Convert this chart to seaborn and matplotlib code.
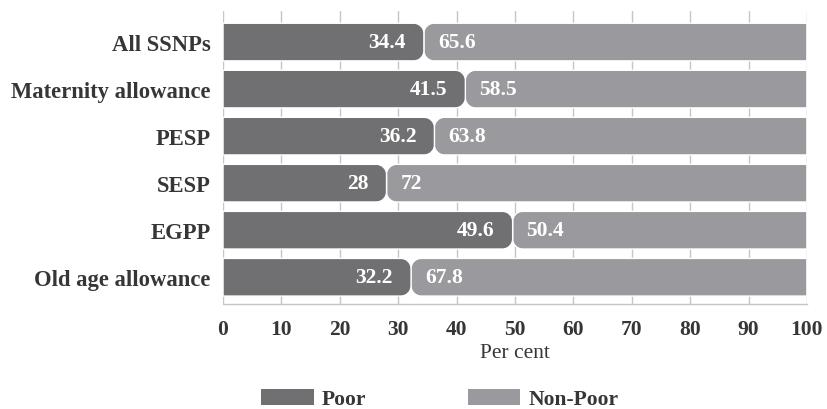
import matplotlib
matplotlib.use("Agg")
import matplotlib.pyplot as plt
import numpy as np
import pandas as pd
import seaborn as sns
from matplotlib.path import Path
from matplotlib.patches import PathPatch, Patch

# Share of beneficiaries by poverty status, per programme
programs = ["All SSNPs", "Maternity allowance", "PESP", "SESP", "EGPP",
            "Old age allowance"]
poor = [34.4, 41.5, 36.2, 28, 49.6, 32.2]
non_poor = [65.6, 58.5, 63.8, 72, 50.4, 67.8]
x_ticks = [0, 10, 20, 30, 40, 50, 60, 70, 80, 90, 100]
series_names = ["Poor", "Non-Poor"]

POOR_COLOR = "#707073"
NONPOOR_COLOR = "#9a9a9e"
TEXT_COLOR = "#363636"
GRID_COLOR = "#c6c6c6"

df = pd.DataFrame({"program": programs, "poor": poor, "non_poor": non_poor})
df["total"] = df["poor"] + df["non_poor"]

sns.set_style("white")
plt.rcParams["font.family"] = ["Liberation Serif", "DejaVu Serif"]
plt.rcParams["text.color"] = TEXT_COLOR

fig = plt.figure(figsize=(8.27, 4.10), dpi=100)
ax = fig.add_axes([0.2697, 0.256, 0.706, 0.7147])

# Non-poor bars are stacked after the poor share; draw totals first
sns.barplot(data=df, x="total", y="program", orient="h", color=NONPOOR_COLOR,
            saturation=1, width=0.8, ax=ax)
n = len(programs)
nonpoor_rects = list(ax.patches[:n])
sns.barplot(data=df, x="poor", y="program", orient="h", color=POOR_COLOR,
            saturation=1, width=0.8, ax=ax)
poor_rects = list(ax.patches[n:2 * n])

ax.set_xlim(0, 100)
ax.set_ylim(5.57, -0.66)

# corner radius in pixels, converted to data units along each axis
radius_px = 10
p0 = ax.transData.transform((0, 0))
p1 = ax.transData.transform((1, 1))
rx = radius_px / abs(p1[0] - p0[0])
ry = radius_px / abs(p1[1] - p0[1])

M, L, C, Z = Path.MOVETO, Path.LINETO, Path.CURVE4, Path.CLOSEPOLY
K = 0.5523  # cubic approximation of a quarter circle


def rounded_bar(x0, x1, y0, y1, side):
    if side == "right":
        verts = [(x0, y0), (x1 - rx, y0),
                 (x1 - rx + K * rx, y0), (x1, y0 + ry - K * ry), (x1, y0 + ry),
                 (x1, y1 - ry),
                 (x1, y1 - ry + K * ry), (x1 - rx + K * rx, y1), (x1 - rx, y1),
                 (x0, y1), (x0, y0)]
    else:
        verts = [(x1, y0), (x0 + rx, y0),
                 (x0 + rx - K * rx, y0), (x0, y0 + ry - K * ry), (x0, y0 + ry),
                 (x0, y1 - ry),
                 (x0, y1 - ry + K * ry), (x0 + rx - K * rx, y1), (x0 + rx, y1),
                 (x1, y1), (x1, y0)]
    codes = [M, L, C, C, C, L, C, C, C, L, Z]
    return Path(verts, codes)


for rect, p, q in zip(nonpoor_rects, poor, non_poor):
    y0, h = rect.get_y(), rect.get_height()
    rect.remove()
    ax.add_patch(PathPatch(rounded_bar(p, p + q, y0, y0 + h, "left"),
                           facecolor=NONPOOR_COLOR, edgecolor="white",
                           linewidth=1.0, zorder=2))
for rect, p in zip(poor_rects, poor):
    y0, h = rect.get_y(), rect.get_height()
    rect.remove()
    ax.add_patch(PathPatch(rounded_bar(0, p, y0, y0 + h, "right"),
                           facecolor=POOR_COLOR, edgecolor="white",
                           linewidth=1.0, zorder=2))

# value labels inside each segment
for i, (p, q) in enumerate(zip(poor, non_poor)):
    ax.annotate(f"{p:g}", xy=(p, i), xytext=(-13, 0), textcoords="offset points",
                ha="right", va="center", color="white", fontsize=15.5,
                fontweight="bold", zorder=3)
    ax.annotate(f"{q:g}", xy=(p, i), xytext=(10, 0), textcoords="offset points",
                ha="left", va="center", color="white", fontsize=15.5,
                fontweight="bold", zorder=3)

ax.set_xticks(x_ticks)
ax.set_xticklabels([str(t) for t in x_ticks], fontweight="bold", fontsize=15.5,
                   color=TEXT_COLOR)
ax.set_yticks(range(n))
ax.set_yticklabels(programs, fontweight="bold", fontsize=16.3, color=TEXT_COLOR)
ax.tick_params(axis="y", length=0, pad=9)
ax.tick_params(axis="x", length=6, width=1, color=GRID_COLOR, pad=5)
ax.grid(axis="x", color=GRID_COLOR, linewidth=1, zorder=0)
ax.set_axisbelow(True)
for s in ["left", "top", "right"]:
    ax.spines[s].set_visible(False)
ax.spines["bottom"].set_color(GRID_COLOR)
ax.spines["bottom"].set_linewidth(1)
ax.set_ylabel("")
ax.set_xlabel("Per cent", fontsize=15.5, color=TEXT_COLOR, labelpad=3)

handles = [Patch(facecolor=POOR_COLOR, edgecolor="none"),
           Patch(facecolor=NONPOOR_COLOR, edgecolor="none")]
leg = fig.legend(handles, series_names, loc="center",
                 bbox_to_anchor=(0.532, 0.024), ncol=2, frameon=False,
                 prop={"weight": "bold", "size": 15.5}, handlelength=2.45,
                 handleheight=0.78, handletextpad=0.38, columnspacing=4.7,
                 borderpad=0, borderaxespad=0)

fig.savefig("out.png", dpi=100)
